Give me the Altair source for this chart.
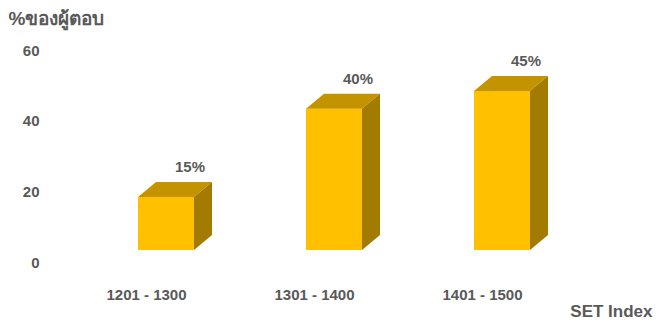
import json
import altair as alt
import pandas as pd

# ---- data ----
categories = ["1201 - 1300", "1301 - 1400", "1401 - 1500"]
values = [15, 40, 45]
y_ticks = [0, 20, 40, 60]
y_title = "%ของผู้ตอบ"
x_title = "SET Index"

# ---- geometry / style constants ----
W, H = 504, 212          # plot area in px
YMAX = 60
PAD = {"left": 54, "top": 42, "right": 89, "bottom": 59}
PXU = W / 3.0            # px per x unit
PYU = H / YMAX           # px per y unit
FRONT_L, FRONT_R = -8, 48   # front face edges (px from category centre)
DEPTH_X, DEPTH_Y = 18, 15   # 3-D depth offset (px)
BASE = 12                   # floor lift of the bars (px)
LABEL_DX = 24               # value label offset from front centre (px)

FRONT_COL = "#FFC000"
TOP_COL = "#C49400"
SIDE_COL = "#A37B00"
TEXT_COL = "#595959"
FONT = "Liberation Sans"

front, top, side, labels = [], [], [], []
for i, (c, v) in enumerate(zip(categories, values)):
    fl = i + FRONT_L / PXU
    fr = i + FRONT_R / PXU
    bl = fl + DEPTH_X / PXU
    br = fr + DEPTH_X / PXU
    b = BASE / PYU
    t = v + b
    d = DEPTH_Y / PYU
    front.append({"bar": c, "x": fl, "x2": fr, "y": b, "y2": t})
    for px, py, py2 in [(fl, t, t), (bl, t, t + d), (fr, t, t + d), (br, t + d, t + d)]:
        top.append({"bar": c, "x": px, "y": py, "y2": py2})
    for px, py, py2 in [(fr, b, t), (br, b + d, t + d)]:
        side.append({"bar": c, "x": px, "y": py, "y2": py2})
    labels.append({"bar": c, "x": i + (FRONT_L + FRONT_R) / 2 / PXU + LABEL_DX / PXU,
                   "y": t, "label": f"{v}%"})

xscale = alt.Scale(domain=[-0.5, 2.5], nice=False, zero=False)
yscale = alt.Scale(domain=[0, YMAX], nice=False)

x_axis = alt.Axis(
    values=[0, 1, 2],
    labelExpr=f"{json.dumps(categories, ensure_ascii=False)}[datum.value]",
    title=x_title, titleX=W + PAD["right"] - 3, titleY=49, titleAlign="right", titleBaseline="middle",
    titleAnchor="end", titleFontSize=17, titleFontWeight="bold", titleColor=TEXT_COL, titleFont=FONT,
    domain=False, ticks=False, tickSize=0, grid=False,
    labelPadding=32, labelBaseline="middle", labelFontSize=15, labelFontWeight="bold",
    labelColor=TEXT_COL, labelFont=FONT, labelFlush=False,
)
y_axis = alt.Axis(
    values=y_ticks,
    title=y_title, titleAngle=0, titleX=-PAD["left"], titleY=-32, titleAlign="left", titleBaseline="middle",
    titleFontSize=19, titleFontWeight="bold", titleColor=TEXT_COL, titleFont=FONT,
    domain=False, ticks=False, tickSize=0, grid=False,
    labelPadding=23, labelAlign="right", labelBaseline="middle", labelFontSize=15,
    labelFontWeight="bold", labelColor=TEXT_COL, labelFont=FONT, labelFlush=False,
)

front_layer = alt.Chart(pd.DataFrame(front)).mark_rect(color=FRONT_COL).encode(
    x=alt.X("x:Q", scale=xscale, axis=x_axis),
    x2="x2:Q",
    y=alt.Y("y:Q", scale=yscale, axis=y_axis),
    y2="y2:Q",
)

top_layer = alt.Chart(pd.DataFrame(top)).mark_area(color=TOP_COL).encode(
    x=alt.X("x:Q", scale=xscale),
    y=alt.Y("y:Q", scale=yscale, stack=None),
    y2="y2:Q",
    detail="bar:N",
)

side_layer = alt.Chart(pd.DataFrame(side)).mark_area(color=SIDE_COL).encode(
    x=alt.X("x:Q", scale=xscale),
    y=alt.Y("y:Q", scale=yscale, stack=None),
    y2="y2:Q",
    detail="bar:N",
)

label_layer = alt.Chart(pd.DataFrame(labels)).mark_text(
    dy=-30, fontSize=15, fontWeight="bold", color=TEXT_COL, font=FONT
).encode(
    x=alt.X("x:Q", scale=xscale),
    y=alt.Y("y:Q", scale=yscale),
    text="label:N",
)

chart = alt.layer(front_layer, top_layer, side_layer, label_layer).properties(
    width=W, height=H,
    autosize=alt.AutoSizeParams(type="none"),
    padding=PAD,
    background="white",
).configure_view(stroke=None)

chart.save("out.html", embed_options={"renderer": "svg", "actions": False})
